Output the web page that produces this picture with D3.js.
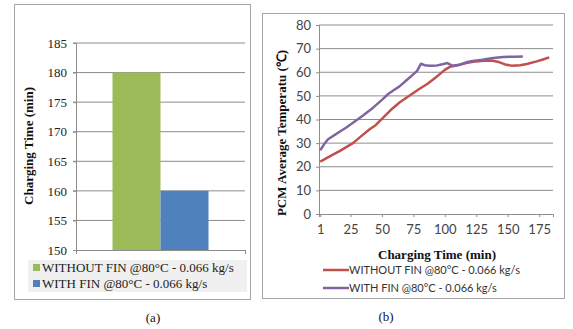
<!DOCTYPE html>
<html>
<head>
<meta charset="utf-8">
<script src="https://cdn.jsdelivr.net/npm/d3@7"></script>
<style>
  body { margin: 0; background: #fff; }
  svg { display: block; }
</style>
</head>
<body>
<div id="chart-Div"></div>
<script>

// ---- data ----
let barSeries = ['WITHOUT FIN @80°C - 0.066 kg/s', 'WITH FIN @80°C - 0.066 kg/s'];
let barValues = [180, 160];
let barColors = ['#9bbb59', '#4f81bd'];
let barTicks = [150, 155, 160, 165, 170, 175, 180, 185];

let lineSeries = ['WITHOUT FIN @80°C - 0.066 kg/s', 'WITH FIN @80°C - 0.066 kg/s'];
let lineColors = ['#c0504d', '#8064a2'];
let timeTicks = [1, 25, 50, 75, 100, 125, 150, 175];
let tempTicks = [0, 10, 20, 30, 40, 50, 60, 70, 80];

let withoutFinTime = [1, 10, 17, 27, 35, 40, 45, 50, 57, 64, 70, 75, 80, 86, 91, 96, 100, 104, 110, 118, 125, 131, 137, 143, 148, 153, 160, 166, 173, 178, 183];
let withoutFinTemp = [22.2, 24.8, 26.8, 30.0, 33.6, 35.8, 37.6, 40.3, 44.0, 47.2, 49.4, 51.2, 53.0, 55.0, 57.0, 59.2, 61.0, 62.3, 63.0, 64.0, 64.6, 64.9, 65.0, 64.3, 63.3, 62.8, 63.0, 63.6, 64.6, 65.4, 66.3];

let withFinTime = [1, 4, 7, 12, 17, 22, 27, 35, 43, 50, 55, 59, 64, 70, 74, 78, 81, 84, 88, 94, 99, 102, 106, 112, 117, 122, 130, 137, 146, 155, 162];
let withFinTemp = [27.0, 29.5, 31.5, 33.3, 35.0, 36.7, 38.6, 41.7, 45.0, 48.3, 50.8, 52.3, 54.0, 56.8, 58.7, 60.6, 63.6, 63.0, 62.8, 62.9, 63.5, 63.9, 62.8, 63.2, 64.2, 64.8, 65.3, 65.9, 66.5, 66.6, 66.7];

// ---- layout ----
let width = 573, height = 329;
let serif = '"Liberation Serif", "Times New Roman", serif';
let sans = 'Lato, "Open Sans", "Liberation Sans", sans-serif';

let svg = d3.select('#chart-Div')
    .append('svg')
    .attr('width', width)
    .attr('height', height);

// ================= panel (a) =================
let pa = svg.append('g');

pa.append('rect')
    .attr('x', 14.5).attr('y', 4.5)
    .attr('width', 236).attr('height', 295)
    .attr('fill', '#fff')
    .attr('stroke', '#a6a6a6');

let yBar = d3.scaleLinear().domain([150, 185]).range([250, 43]);
let xBand = d3.scaleBand().domain(['c']).range([76, 245]).paddingOuter(0.38).paddingInner(0);
let xSub = d3.scaleBand().domain(barSeries).range([0, xBand.bandwidth()]);

// gridlines
pa.append('g')
    .selectAll('line')
    .data(barTicks.filter(t => t > 150))
    .join('line')
    .attr('x1', 73).attr('x2', 245)
    .attr('y1', d => yBar(d)).attr('y2', d => yBar(d))
    .attr('stroke', '#8c8c8c').attr('stroke-width', 1);

// bars
pa.append('g')
    .selectAll('rect')
    .data(barValues)
    .join('rect')
    .attr('x', (d, i) => xBand('c') + xSub(barSeries[i]))
    .attr('y', d => yBar(d))
    .attr('width', xSub.bandwidth())
    .attr('height', d => yBar(150) - yBar(d))
    .attr('fill', (d, i) => barColors[i]);

// y axis
let yAxisA = pa.append('g')
    .attr('transform', 'translate(76,0)')
    .call(d3.axisLeft(yBar).tickValues(barTicks).tickSize(3).tickPadding(6));
yAxisA.select('.domain').attr('stroke', '#8c8c8c');
yAxisA.selectAll('.tick line').attr('stroke', '#8c8c8c');
yAxisA.selectAll('text')
    .attr('font-family', serif).attr('font-size', 13).attr('fill', '#222');

// x axis line with end ticks
let xAxisA = pa.append('g')
    .attr('transform', 'translate(0,250)')
    .call(d3.axisBottom(d3.scaleLinear().domain([0, 1]).range([76, 245])).tickValues([0, 1]).tickSize(4).tickFormat(''));
xAxisA.select('.domain').attr('stroke', '#8c8c8c');
xAxisA.selectAll('.tick line').attr('stroke', '#8c8c8c');

pa.append('text')
    .attr('transform', 'translate(33,146) rotate(-90)')
    .attr('text-anchor', 'middle')
    .attr('font-family', serif).attr('font-size', 13).attr('font-weight', 'bold')
    .attr('fill', '#111')
    .text('Charging Time (min)');

// legend
pa.append('rect')
    .attr('x', 28).attr('y', 260)
    .attr('width', 219).attr('height', 32)
    .attr('fill', '#f0f0f0');

let legA = pa.append('g')
    .selectAll('g')
    .data(barSeries)
    .join('g')
    .attr('transform', (d, i) => `translate(33,${268 + i * 16})`);
legA.append('rect')
    .attr('x', 0).attr('y', -4)
    .attr('width', 7).attr('height', 7)
    .attr('fill', (d, i) => barColors[i]);
legA.append('text')
    .attr('x', 9).attr('y', 4)
    .attr('font-family', serif).attr('font-size', 13)
    .attr('fill', '#222')
    .text(d => d);

pa.append('text')
    .attr('x', 153).attr('y', 322)
    .attr('text-anchor', 'middle')
    .attr('font-family', serif).attr('font-size', 13)
    .attr('fill', '#111')
    .text('(a)');

// ================= panel (b) =================
let pb = svg.append('g');

pb.append('rect')
    .attr('x', 262.5).attr('y', 13.5)
    .attr('width', 302).attr('height', 285)
    .attr('fill', '#fff')
    .attr('stroke', '#a6a6a6');

let xTime = d3.scaleLinear().domain([0, 186]).range([319, 553]);
let yTemp = d3.scaleLinear().domain([0, 80]).range([214, 25]);

pb.append('g')
    .selectAll('line')
    .data(tempTicks.filter(t => t > 0))
    .join('line')
    .attr('x1', 319).attr('x2', 553)
    .attr('y1', d => yTemp(d)).attr('y2', d => yTemp(d))
    .attr('stroke', '#8c8c8c').attr('stroke-width', 1);

let yAxisB = pb.append('g')
    .attr('transform', 'translate(319,0)')
    .call(d3.axisLeft(yTemp).tickValues(tempTicks).tickSize(3).tickPadding(5));
yAxisB.select('.domain').attr('stroke', '#8c8c8c');
yAxisB.selectAll('.tick line').attr('stroke', '#8c8c8c');
yAxisB.selectAll('text')
    .attr('font-family', sans).attr('font-size', 13).attr('fill', '#444');

let xAxisB = pb.append('g')
    .attr('transform', 'translate(0,214)')
    .call(d3.axisBottom(xTime).tickValues(timeTicks).tickSize(3).tickPadding(8));
xAxisB.select('.domain').attr('stroke', '#8c8c8c');
xAxisB.selectAll('.tick line').attr('stroke', '#8c8c8c');
xAxisB.selectAll('text')
    .attr('font-family', sans).attr('font-size', 13).attr('fill', '#444');

let lineGen = d3.line()
    .x(d => xTime(d[0]))
    .y(d => yTemp(d[1]));

let lineData = [
    d3.zip(withoutFinTime, withoutFinTemp),
    d3.zip(withFinTime, withFinTemp)
];

pb.append('g')
    .selectAll('path')
    .data(lineData)
    .join('path')
    .attr('d', lineGen)
    .attr('fill', 'none')
    .attr('stroke', (d, i) => lineColors[i])
    .attr('stroke-width', 2.5)
    .attr('stroke-linejoin', 'round');

pb.append('text')
    .attr('transform', 'translate(286,133) rotate(-90)')
    .attr('text-anchor', 'middle')
    .attr('font-family', serif).attr('font-size', 13).attr('font-weight', 'bold')
    .attr('fill', '#111')
    .text('PCM Average Temperatu (℃)');

pb.append('text')
    .attr('x', 437).attr('y', 259)
    .attr('text-anchor', 'middle')
    .attr('font-family', serif).attr('font-size', 13).attr('font-weight', 'bold')
    .attr('fill', '#111')
    .text('Charging Time (min)');

let legB = pb.append('g')
    .selectAll('g')
    .data(lineSeries)
    .join('g')
    .attr('transform', (d, i) => `translate(323,${270 + i * 18})`);
legB.append('line')
    .attr('x1', 0).attr('x2', 26)
    .attr('stroke', (d, i) => lineColors[i])
    .attr('stroke-width', 2.5);
legB.append('text')
    .attr('x', 26).attr('y', 4)
    .attr('font-family', sans).attr('font-size', 11)
    .attr('fill', '#333')
    .text(d => d);

pb.append('text')
    .attr('x', 386).attr('y', 321)
    .attr('text-anchor', 'middle')
    .attr('font-family', serif).attr('font-size', 13)
    .attr('fill', '#111')
    .text('(b)');

</script>
</body>
</html>
